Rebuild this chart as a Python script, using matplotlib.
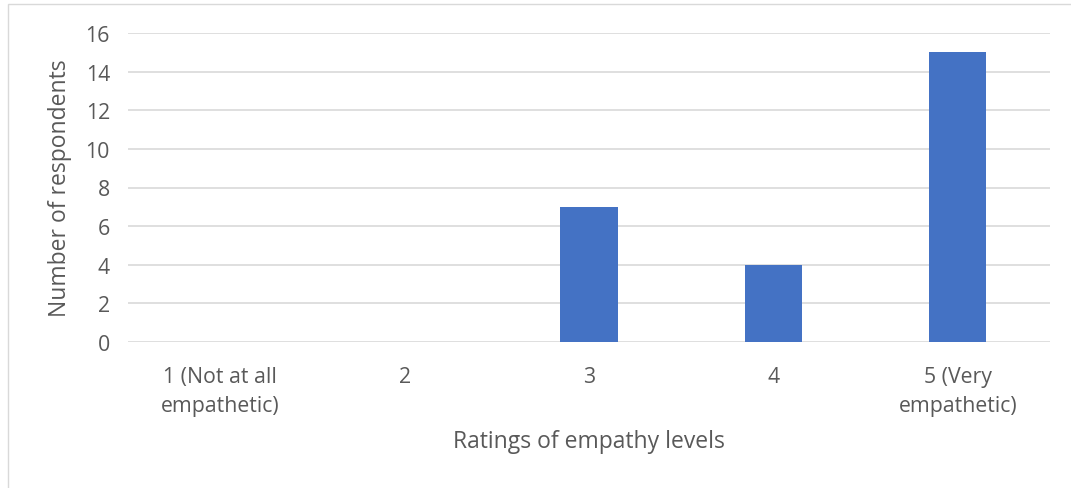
import matplotlib
matplotlib.use("Agg")
import matplotlib.pyplot as plt
from matplotlib.patches import Rectangle

categories = ["1 (Not at all\nempathetic)", "2", "3", "4", "5 (Very\nempathetic)"]
respondents = [0, 0, 7, 4, 15]
y_ticks = [0, 2, 4, 6, 8, 10, 12, 14, 16]

plt.rcParams['font.family'] = ['Open Sans', 'DejaVu Sans']
text_color = "#595959"
grid_color = "#d9d9d9"
bar_color = "#4472c4"

fig = plt.figure(figsize=(10.71, 4.89), dpi=100)
fig.patch.set_facecolor("white")
fig.add_artist(Rectangle((8 / 1071, -0.01), 1.02, 1 - 5 / 489 + 0.01,
                         transform=fig.transFigure, fill=False,
                         edgecolor=grid_color, linewidth=1.0))

ax = fig.add_axes([128 / 1071, 1 - 343 / 489, (1050 - 128) / 1071, (343 - 34) / 489])
x = list(range(len(categories)))
ax.bar(x, respondents, width=0.31, color=bar_color, zorder=3)

ax.set_xlim(-0.5, len(categories) - 0.5)
ax.set_ylim(0, 16)
ax.set_yticks(y_ticks)
ax.set_xticks(x)
ax.set_xticklabels(categories, fontsize=15.3, color=text_color, linespacing=1.55)
ax.tick_params(axis='y', labelsize=15.3, labelcolor=text_color, length=0, pad=13)
ax.tick_params(axis='x', length=0, pad=17)
ax.grid(axis='y', color=grid_color, linewidth=1.2, zorder=0)
for s in ax.spines.values():
    s.set_visible(False)

ax.set_ylabel("Number of respondents", fontsize=16.5, color=text_color, labelpad=10)
ax.set_xlabel("Ratings of empathy levels", fontsize=16.5, color=text_color, labelpad=9)

fig.savefig("out.png", dpi=100)
